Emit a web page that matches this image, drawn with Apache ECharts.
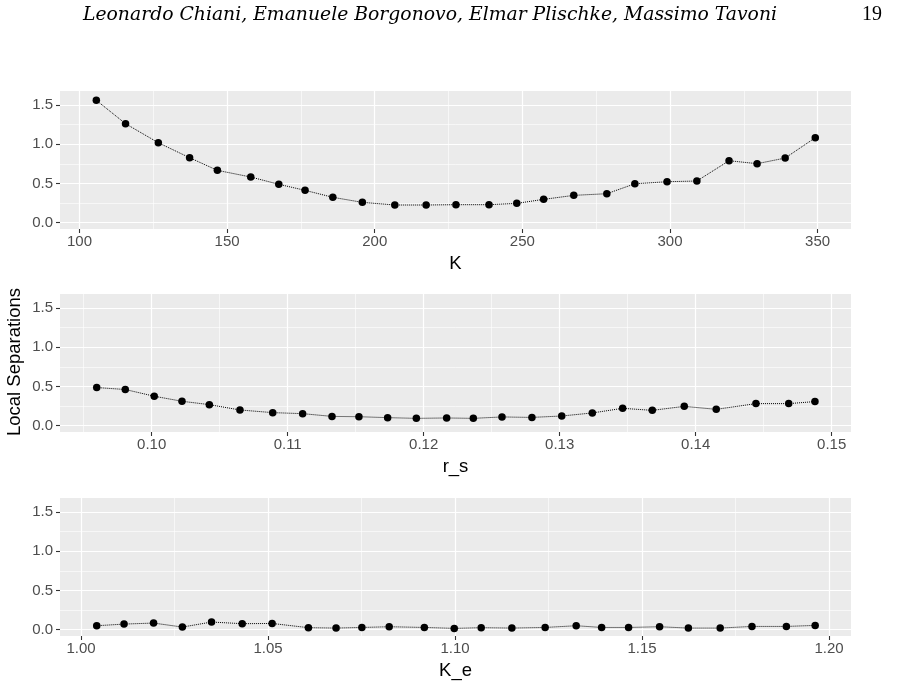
<!DOCTYPE html>
<html lang="en">
<head>
    <meta charset="UTF-8">
    <title>Local Separations</title>
    <script src="https://cdn.jsdelivr.net/npm/echarts@6.0.0/dist/echarts.min.js"></script>
    <style type="text/css">
        * { margin: 0; padding: 0; }
        html, body { width: 100%; height: 100%; background: #fff; }
        #main { width: 898px; height: 687px; }
    </style>
</head>
<body>
<div id="main"></div>
<script type="text/javascript">
    // data
    var kX = [105.7, 115.6, 126.7, 137.3, 146.7, 158.0, 167.5, 176.4, 185.8, 195.8, 206.8, 217.4, 227.5,
        238.7, 248.1, 257.2, 267.4, 278.6, 288.1, 299.0, 309.1, 320.0, 329.5, 339.0, 349.2];
    var kY = [1.561, 1.263, 1.020, 0.829, 0.668, 0.583, 0.490, 0.413, 0.324, 0.260, 0.226, 0.226, 0.230,
        0.230, 0.247, 0.298, 0.349, 0.370, 0.497, 0.523, 0.532, 0.791, 0.753, 0.825, 1.084];

    var rsX = [0.09596, 0.09806, 0.10019, 0.10223, 0.10424, 0.10649, 0.10890, 0.11110, 0.11326, 0.11524,
        0.11735, 0.11946, 0.12169, 0.12365, 0.12576, 0.12796, 0.13015, 0.13240, 0.13463, 0.13681,
        0.13916, 0.14151, 0.14443, 0.14684, 0.14877];
    var rsY = [0.487, 0.462, 0.376, 0.312, 0.269, 0.201, 0.167, 0.154, 0.119, 0.115, 0.103, 0.094, 0.099,
        0.094, 0.112, 0.106, 0.124, 0.163, 0.222, 0.196, 0.247, 0.209, 0.282, 0.282, 0.308];

    var keX = [1.0042, 1.0115, 1.0194, 1.0271, 1.0349, 1.0431, 1.0511, 1.0608, 1.0682, 1.0751, 1.0824,
        1.0918, 1.0998, 1.1070, 1.1152, 1.1241, 1.1324, 1.1392, 1.1464, 1.1547, 1.1624, 1.1709,
        1.1794, 1.1886, 1.1963];
    var keY = [0.051, 0.072, 0.085, 0.034, 0.098, 0.077, 0.080, 0.026, 0.021, 0.029, 0.038, 0.029, 0.017,
        0.026, 0.021, 0.029, 0.051, 0.029, 0.029, 0.038, 0.021, 0.021, 0.042, 0.042, 0.055];

    // tick labels / breaks
    var yMajor = [0, 0.5, 1.0, 1.5];
    var yMinor = [0.25, 0.75, 1.25];
    var kMajor = [100, 150, 200, 250, 300, 350];
    var kMinor = [125, 175, 225, 275, 325];
    var rsMajor = [0.10, 0.11, 0.12, 0.13, 0.14, 0.15];
    var rsMinor = [0.095, 0.105, 0.115, 0.125, 0.135, 0.145];
    var keMajor = [1.00, 1.05, 1.10, 1.15, 1.20];
    var keMinor = [1.025, 1.075, 1.125, 1.175];

    var panels = [
        {name: 'K', x: kX, y: kY, major: kMajor, minor: kMinor, min: 93.4, max: 361.3, digits: 0, top: 91},
        {name: 'r_s', x: rsX, y: rsY, major: rsMajor, minor: rsMinor, min: 0.09326, max: 0.15142, digits: 2, top: 294},
        {name: 'K_e', x: keX, y: keY, major: keMajor, minor: keMinor, min: 0.99438, max: 1.20588, digits: 2, top: 498}
    ];

    var yMin = -0.08, yMax = 1.68;
    var tickColor = '#333333', labelColor = '#4d4d4d';
    var labelFont = 'Liberation Sans, Arial, sans-serif';

    var grids = [], xAxes = [], yAxes = [], series = [];

    panels.forEach(function (p, i) {
        grids.push({left: 60, top: p.top, width: 791, height: 138, backgroundColor: '#EBEBEB', show: true, borderWidth: 0});

        // minor grid axes (hidden)
        xAxes.push({
            type: 'value', gridIndex: i, min: p.min, max: p.max, position: 'bottom',
            axisLine: {show: false, onZero: false}, axisLabel: {show: false},
            axisTick: {show: false, customValues: p.minor},
            splitLine: {show: true, lineStyle: {color: '#ffffff', width: 0.6}}
        });
        yAxes.push({
            type: 'value', gridIndex: i, min: yMin, max: yMax, position: 'left',
            axisLine: {show: false, onZero: false}, axisLabel: {show: false},
            axisTick: {show: false, customValues: yMinor},
            splitLine: {show: true, lineStyle: {color: '#ffffff', width: 0.6}}
        });
        // major axes
        xAxes.push({
            type: 'value', gridIndex: i, min: p.min, max: p.max, position: 'bottom',
            name: p.name, nameLocation: 'middle', nameGap: 25,
            nameTextStyle: {color: '#000', fontSize: 18.5, fontFamily: labelFont},
            axisLine: {show: false, onZero: false},
            axisTick: {show: true, length: 4, customValues: p.major, lineStyle: {color: tickColor, width: 1.1}},
            axisLabel: {
                customValues: p.major, color: labelColor, fontSize: 15, fontFamily: labelFont, margin: 5,
                formatter: function (v) { return v.toFixed(p.digits); }
            },
            splitLine: {show: true, lineStyle: {color: '#ffffff', width: 1.2}}
        });
        yAxes.push({
            type: 'value', gridIndex: i, min: yMin, max: yMax, position: 'left',
            axisLine: {show: false, onZero: false},
            axisTick: {show: true, length: 4, customValues: yMajor, lineStyle: {color: tickColor, width: 1.1}},
            axisLabel: {
                customValues: yMajor, color: labelColor, fontSize: 15, fontFamily: labelFont, margin: 7,
                formatter: function (v) { return v.toFixed(1); }
            },
            splitLine: {show: true, lineStyle: {color: '#ffffff', width: 1.2}}
        });

        series.push({
            type: 'line',
            xAxisIndex: 2 * i + 1, yAxisIndex: 2 * i + 1,
            data: p.x.map(function (v, j) { return [v, p.y[j]]; }),
            symbol: 'circle', symbolSize: 7.5,
            itemStyle: {color: '#000'},
            lineStyle: {color: '#000', width: 1, type: 'dotted'},
            animation: false, silent: true
        });
    });

    var myChart = echarts.init(document.getElementById('main'));
    var option = {
        animation: false,
        grid: grids,
        xAxis: xAxes,
        yAxis: yAxes,
        series: series,
        graphic: [
            {
                type: 'text', x: 430, y: 15,
                style: {
                    text: 'Leonardo Chiani, Emanuele Borgonovo, Elmar Plischke, Massimo Tavoni',
                    font: 'italic 18.8px "DejaVu Serif", "Liberation Serif", serif', fill: '#000',
                    align: 'center', verticalAlign: 'middle'
                }
            },
            {
                type: 'text', x: 872, y: 15,
                style: {
                    text: '19', font: '20px "Liberation Serif", "DejaVu Serif", serif', fill: '#000',
                    align: 'center', verticalAlign: 'middle'
                }
            },
            {
                type: 'text', rotation: Math.PI / 2, x: 15, y: 362,
                style: {
                    text: 'Local Separations', font: '18.5px ' + labelFont, fill: '#000',
                    align: 'center', verticalAlign: 'middle'
                }
            }
        ]
    };
    myChart.setOption(option);
</script>
</body>
</html>
